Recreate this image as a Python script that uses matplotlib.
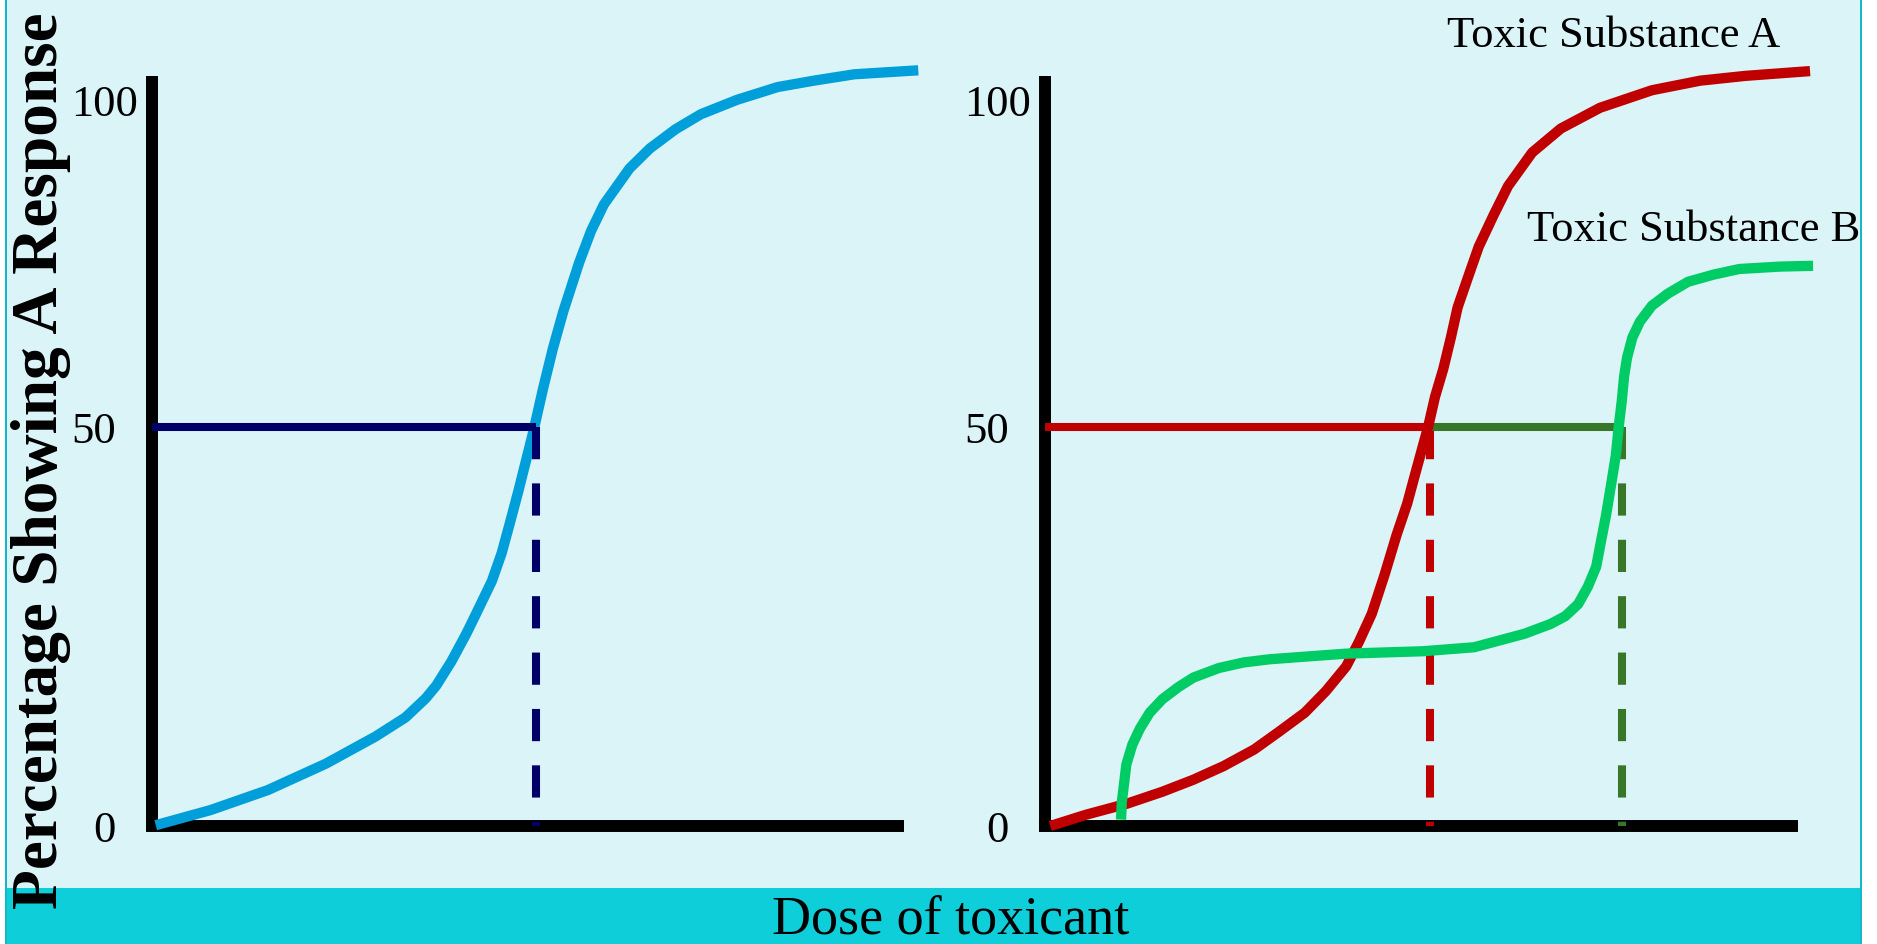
import matplotlib
matplotlib.use("Agg")
import matplotlib.pyplot as plt
from matplotlib.patches import Rectangle
from matplotlib.transforms import ScaledTranslation

# ---------------- data ----------------
# Left panel: single dose-response curve (dose 0-100 along axis, % response)
left_dose = [0.5, 7.8, 15.4, 23.1, 29.7, 33.7, 36.4, 37.8, 39.8, 41.8, 43.2,
             45.2, 46.5, 47.6, 48.7, 50.7, 52.0, 53.3, 54.7, 56.8, 58.4, 60.1,
             63.5, 66.2, 69.6, 73.0, 77.8, 83.2, 88.0, 93.4, 101.9]
left_resp = [0.1, 2.0, 4.5, 7.8, 11.2, 13.6, 16.0, 17.6, 20.6, 24.1, 26.8,
             30.7, 34.2, 38.0, 41.9, 49.4, 54.8, 59.8, 64.5, 70.6, 74.6, 77.9,
             82.4, 84.9, 87.3, 89.2, 91.0, 92.6, 93.4, 94.2, 94.7]
left_ld50 = 51.1

# Right panel: Toxic Substance A (red) and B (green)
a_dose = [0.7, 5.4, 10.9, 15.6, 19.7, 23.7, 27.8, 31.2, 34.5, 37.3, 40.0,
          41.7, 43.4, 45.1, 46.7, 48.1, 49.1, 50.9, 51.8, 52.9, 53.9, 54.8,
          56.3, 57.6, 59.6, 61.5, 64.7, 68.5, 73.7, 80.6, 87.0, 93.0, 101.6]
a_resp = [0.0, 1.4, 2.8, 4.3, 5.8, 7.5, 9.6, 11.9, 14.2, 16.9, 20.0,
          23.1, 26.6, 31.5, 36.5, 40.4, 43.9, 50.1, 53.8, 57.3, 61.2, 65.0,
          69.1, 72.6, 76.6, 80.2, 84.4, 87.4, 90.0, 92.2, 93.4, 94.0, 94.6]
a_ld50 = 51.1

b_dose = [10.1, 10.2, 10.5, 10.8, 11.6, 12.6, 13.9, 15.6, 17.7, 19.7, 23.1,
          26.4, 29.9, 40.0, 50.2, 57.0, 63.7, 67.1, 69.1, 70.8, 72.1, 73.2,
          73.8, 74.5, 75.2, 75.8, 76.2, 76.6, 76.9, 77.3, 78.0, 79.0, 80.6,
          82.7, 85.4, 88.8, 92.2, 97.6, 102.0]
b_resp = [0.8, 3.0, 5.3, 7.7, 10.2, 12.2, 14.2, 15.9, 17.4, 18.6, 19.8,
          20.5, 20.9, 21.6, 21.9, 22.4, 24.1, 25.3, 26.3, 27.8, 30.0, 32.5,
          35.5, 38.9, 42.9, 46.4, 50.1, 53.3, 56.3, 58.7, 61.2, 63.2, 65.2,
          66.7, 68.2, 69.1, 69.8, 70.1, 70.2]
b_ld50 = 76.6

half_response = 50
ytick_labels = ["0", "50", "100"]
ytick_values = [0, 50, 91]   # where the labels sit in the (schematic) drawing

series_a_name = "Toxic Substance A"
series_b_name = "Toxic Substance B"
y_title = "Percentage Showing A Response"
x_title = "Dose of toxicant"

# ---------------- styling ----------------
W, H = 1877, 945
DPI = 100
BG = "#DBF4F8"
BAND = "#0ECFD9"
BORDER = "#14B8C6"
BLUE = "#009FD9"
NAVY = "#000066"
RED = "#C00000"
GREEN = "#00CC66"
DKGREEN = "#38762A"
SERIF = ["Liberation Serif", "DejaVu Serif"]

CURVE_LW = 7.4
REF_LW = 5.8
AXIS_LW = 8.6

fig = plt.figure(figsize=(W / DPI, H / DPI), dpi=DPI, facecolor="white")


def fx(px):
    return px / W


def fy(py):
    return 1 - py / H


# background panel, bottom band and borders
fig.patches.append(Rectangle((fx(5), fy(889)), fx(1862) - fx(5), fy(0) - fy(889),
                             transform=fig.transFigure, facecolor=BG,
                             edgecolor="none", zorder=-5))
fig.patches.append(Rectangle((fx(5), 0), fx(1862) - fx(5), fy(889),
                             transform=fig.transFigure, facecolor=BAND,
                             edgecolor="none", zorder=-5))
for xb in (5, 1860):
    fig.patches.append(Rectangle((fx(xb), 0), fx(2.2), 1,
                                 transform=fig.transFigure, facecolor=BORDER,
                                 edgecolor="none", zorder=-4))

AX_TOP, AX_BOT = 76.5, 827
YMAX = (AX_BOT - AX_TOP) / ((AX_BOT - 428) / 50.0)


def make_axes(x0, x1):
    ax = fig.add_axes([fx(x0), fy(AX_BOT), fx(x1) - fx(x0), (AX_BOT - AX_TOP) / H])
    ax.set_xlim(0, 100)
    ax.set_ylim(0, YMAX)
    ax.patch.set_visible(False)
    for s in ("top", "right"):
        ax.spines[s].set_visible(False)
    for s in ("left", "bottom"):
        ax.spines[s].set_linewidth(AXIS_LW)
        ax.spines[s].set_color("black")
        ax.spines[s].set_zorder(1)
        ax.spines[s].set_capstyle("butt")
    # let the x axis start under the full width of the y axis bar
    ax.spines["bottom"].set_bounds(-6.0 * 100 / (x1 - x0), 100)
    ax.set_xticks([])
    ax.set_yticks(ytick_values)
    ax.set_yticklabels(ytick_labels, family=SERIF, fontsize=32)
    ax.tick_params(axis="y", length=0, pad=26)
    lab100 = ax.get_yticklabels()[2]
    lab100.set_transform(lab100.get_transform() +
                         ScaledTranslation(22 / DPI, 0, fig.dpi_scale_trans))
    return ax


axL = make_axes(152, 904)
axR = make_axes(1045, 1798)

dash = (4, 3)
curve_kw = dict(lw=CURVE_LW, solid_capstyle="butt", solid_joinstyle="round",
                clip_on=False)

# ---- left panel ----
axL.plot([0, left_ld50], [half_response, half_response], color=NAVY, lw=REF_LW,
         solid_capstyle="butt", zorder=3)
axL.plot([left_ld50, left_ld50], [half_response, 0], color=NAVY, lw=REF_LW,
         dashes=dash, dash_capstyle="butt", zorder=3)
axL.plot(left_dose, left_resp, color=BLUE, zorder=2, **curve_kw)

# ---- right panel ----
axR.plot([0, a_ld50], [half_response, half_response], color=RED, lw=REF_LW,
         solid_capstyle="butt", zorder=2)
axR.plot([a_ld50, a_ld50], [half_response, 0], color=RED, lw=REF_LW,
         dashes=dash, dash_capstyle="butt", zorder=2)
axR.plot([a_ld50, b_ld50], [half_response, half_response], color=DKGREEN,
         lw=REF_LW, solid_capstyle="butt", zorder=2)
axR.plot([b_ld50, b_ld50], [half_response, 0], color=DKGREEN, lw=REF_LW,
         dashes=dash, dash_capstyle="butt", zorder=2)
axR.plot(a_dose, a_resp, color=RED, zorder=3, **curve_kw)
axR.plot(b_dose, b_resp, color=GREEN, zorder=4, **curve_kw)

axR.text(53.4, 97.7, series_a_name, family=SERIF, fontsize=32, ha="left",
         va="baseline", clip_on=False)
axR.text(64.0, 73.4, series_b_name, family=SERIF, fontsize=32, ha="left",
         va="baseline", clip_on=False)

# ---- titles ----
fig.text(fx(41), fy(461), y_title, rotation=90, family=SERIF, fontweight="bold",
         fontsize=47, ha="center", va="center", zorder=5)
fig.text(fx(951), fy(920), x_title, family=SERIF, fontsize=39, ha="center",
         va="center", zorder=5)

fig.savefig("out.png", dpi=DPI, facecolor="white")
